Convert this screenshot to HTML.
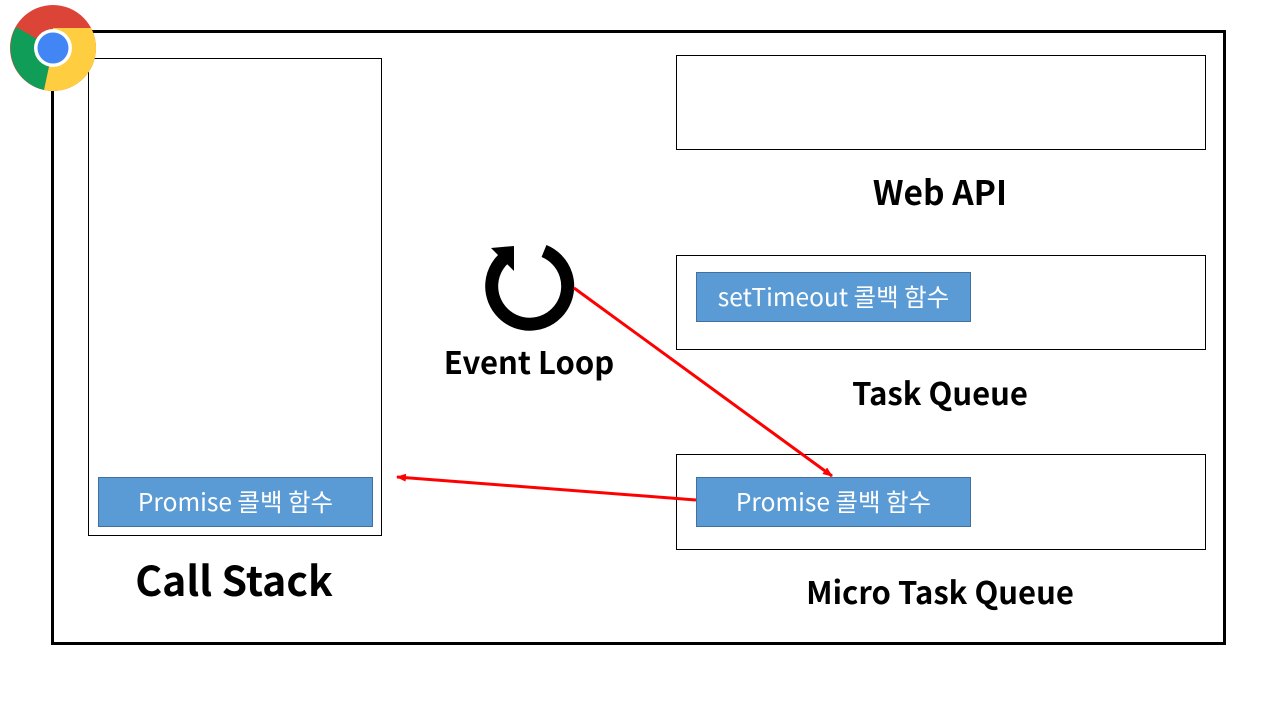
<!DOCTYPE html>
<html><head><meta charset="utf-8"><style>
body{margin:0;width:1280px;height:720px;background:#fff;position:relative;overflow:hidden;font-family:"Liberation Sans","Noto Sans CJK KR",sans-serif}
.b{position:absolute;box-sizing:border-box;border:1px solid #000}
.q{position:absolute;box-sizing:border-box;background:#5b9bd5;border:1px solid #41719c;color:#fff;font-size:24.5px;display:flex;align-items:center;justify-content:center;font-family:"Noto Sans CJK KR",sans-serif;padding-bottom:2px}
.t{position:absolute;font-weight:bold;color:#000;text-align:center;font-family:"Noto Sans CJK KR","Liberation Sans",sans-serif}
</style></head><body>
<div class="b" style="left:51px;top:30px;width:1175px;height:615px;border:3px solid #000"></div>
<div class="b" style="left:88px;top:58px;width:294px;height:478px"></div>
<div class="b" style="left:676px;top:55px;width:530px;height:95px"></div>
<div class="b" style="left:676px;top:255px;width:530px;height:95px"></div>
<div class="b" style="left:676px;top:454px;width:530px;height:96px"></div>
<div class="q" style="left:696px;top:272px;width:275px;height:50px">setTimeout 콜백 함수</div>
<div class="q" style="left:98px;top:477px;width:275px;height:50px">Promise 콜백 함수</div>
<div class="q" style="left:696px;top:477px;width:275px;height:50px">Promise 콜백 함수</div>
<div class="t" style="left:740px;top:166px;width:400px;font-size:33.5px">Web API</div>
<div class="t" style="left:740px;top:369px;width:400px;font-size:31px">Task Queue</div>
<div class="t" style="left:740px;top:568px;width:400px;font-size:31px">Micro Task Queue</div>
<div class="t" style="left:84px;top:548px;width:300px;font-size:41px">Call Stack</div>
<div class="t" style="left:420px;top:338px;width:218px;font-size:31px">Event Loop</div>
<svg width="1280" height="720" style="position:absolute;left:0;top:0">
<defs><marker id="a" markerWidth="10" markerHeight="8" refX="9" refY="4" orient="auto" markerUnits="userSpaceOnUse"><path d="M0,0L10,4L0,8z" fill="#f00"/></marker></defs>
<circle cx="53" cy="48" r="43" fill="#db4437"/>
<path d="M53,48 L16,27 A43,43 0 0 0 44,90 Z" fill="#0f9d58"/>
<path d="M53,48 L44,90 A43,43 0 0 0 94,35 L53,35 Z" fill="#ffcd40"/>
<path d="M53,48 L94,35 A43,43 0 0 0 91,28 L53,28 Z" fill="#ffcd40"/>
<circle cx="53" cy="48" r="19" fill="#fff"/>
<circle cx="53" cy="48" r="15.5" fill="#4285f4"/>
<path d="M544,251 A38,38 0 1 1 508,255" fill="none" stroke="#000" stroke-width="13"/>
<path d="M491,248 L514,246 L514,271 Z" fill="#000"/>
<line x1="574" y1="288" x2="832" y2="476" stroke="#f00" stroke-width="3" marker-end="url(#a)"/>
<line x1="696" y1="500" x2="397" y2="477" stroke="#f00" stroke-width="3" marker-end="url(#a)"/>
</svg>
</body></html>
